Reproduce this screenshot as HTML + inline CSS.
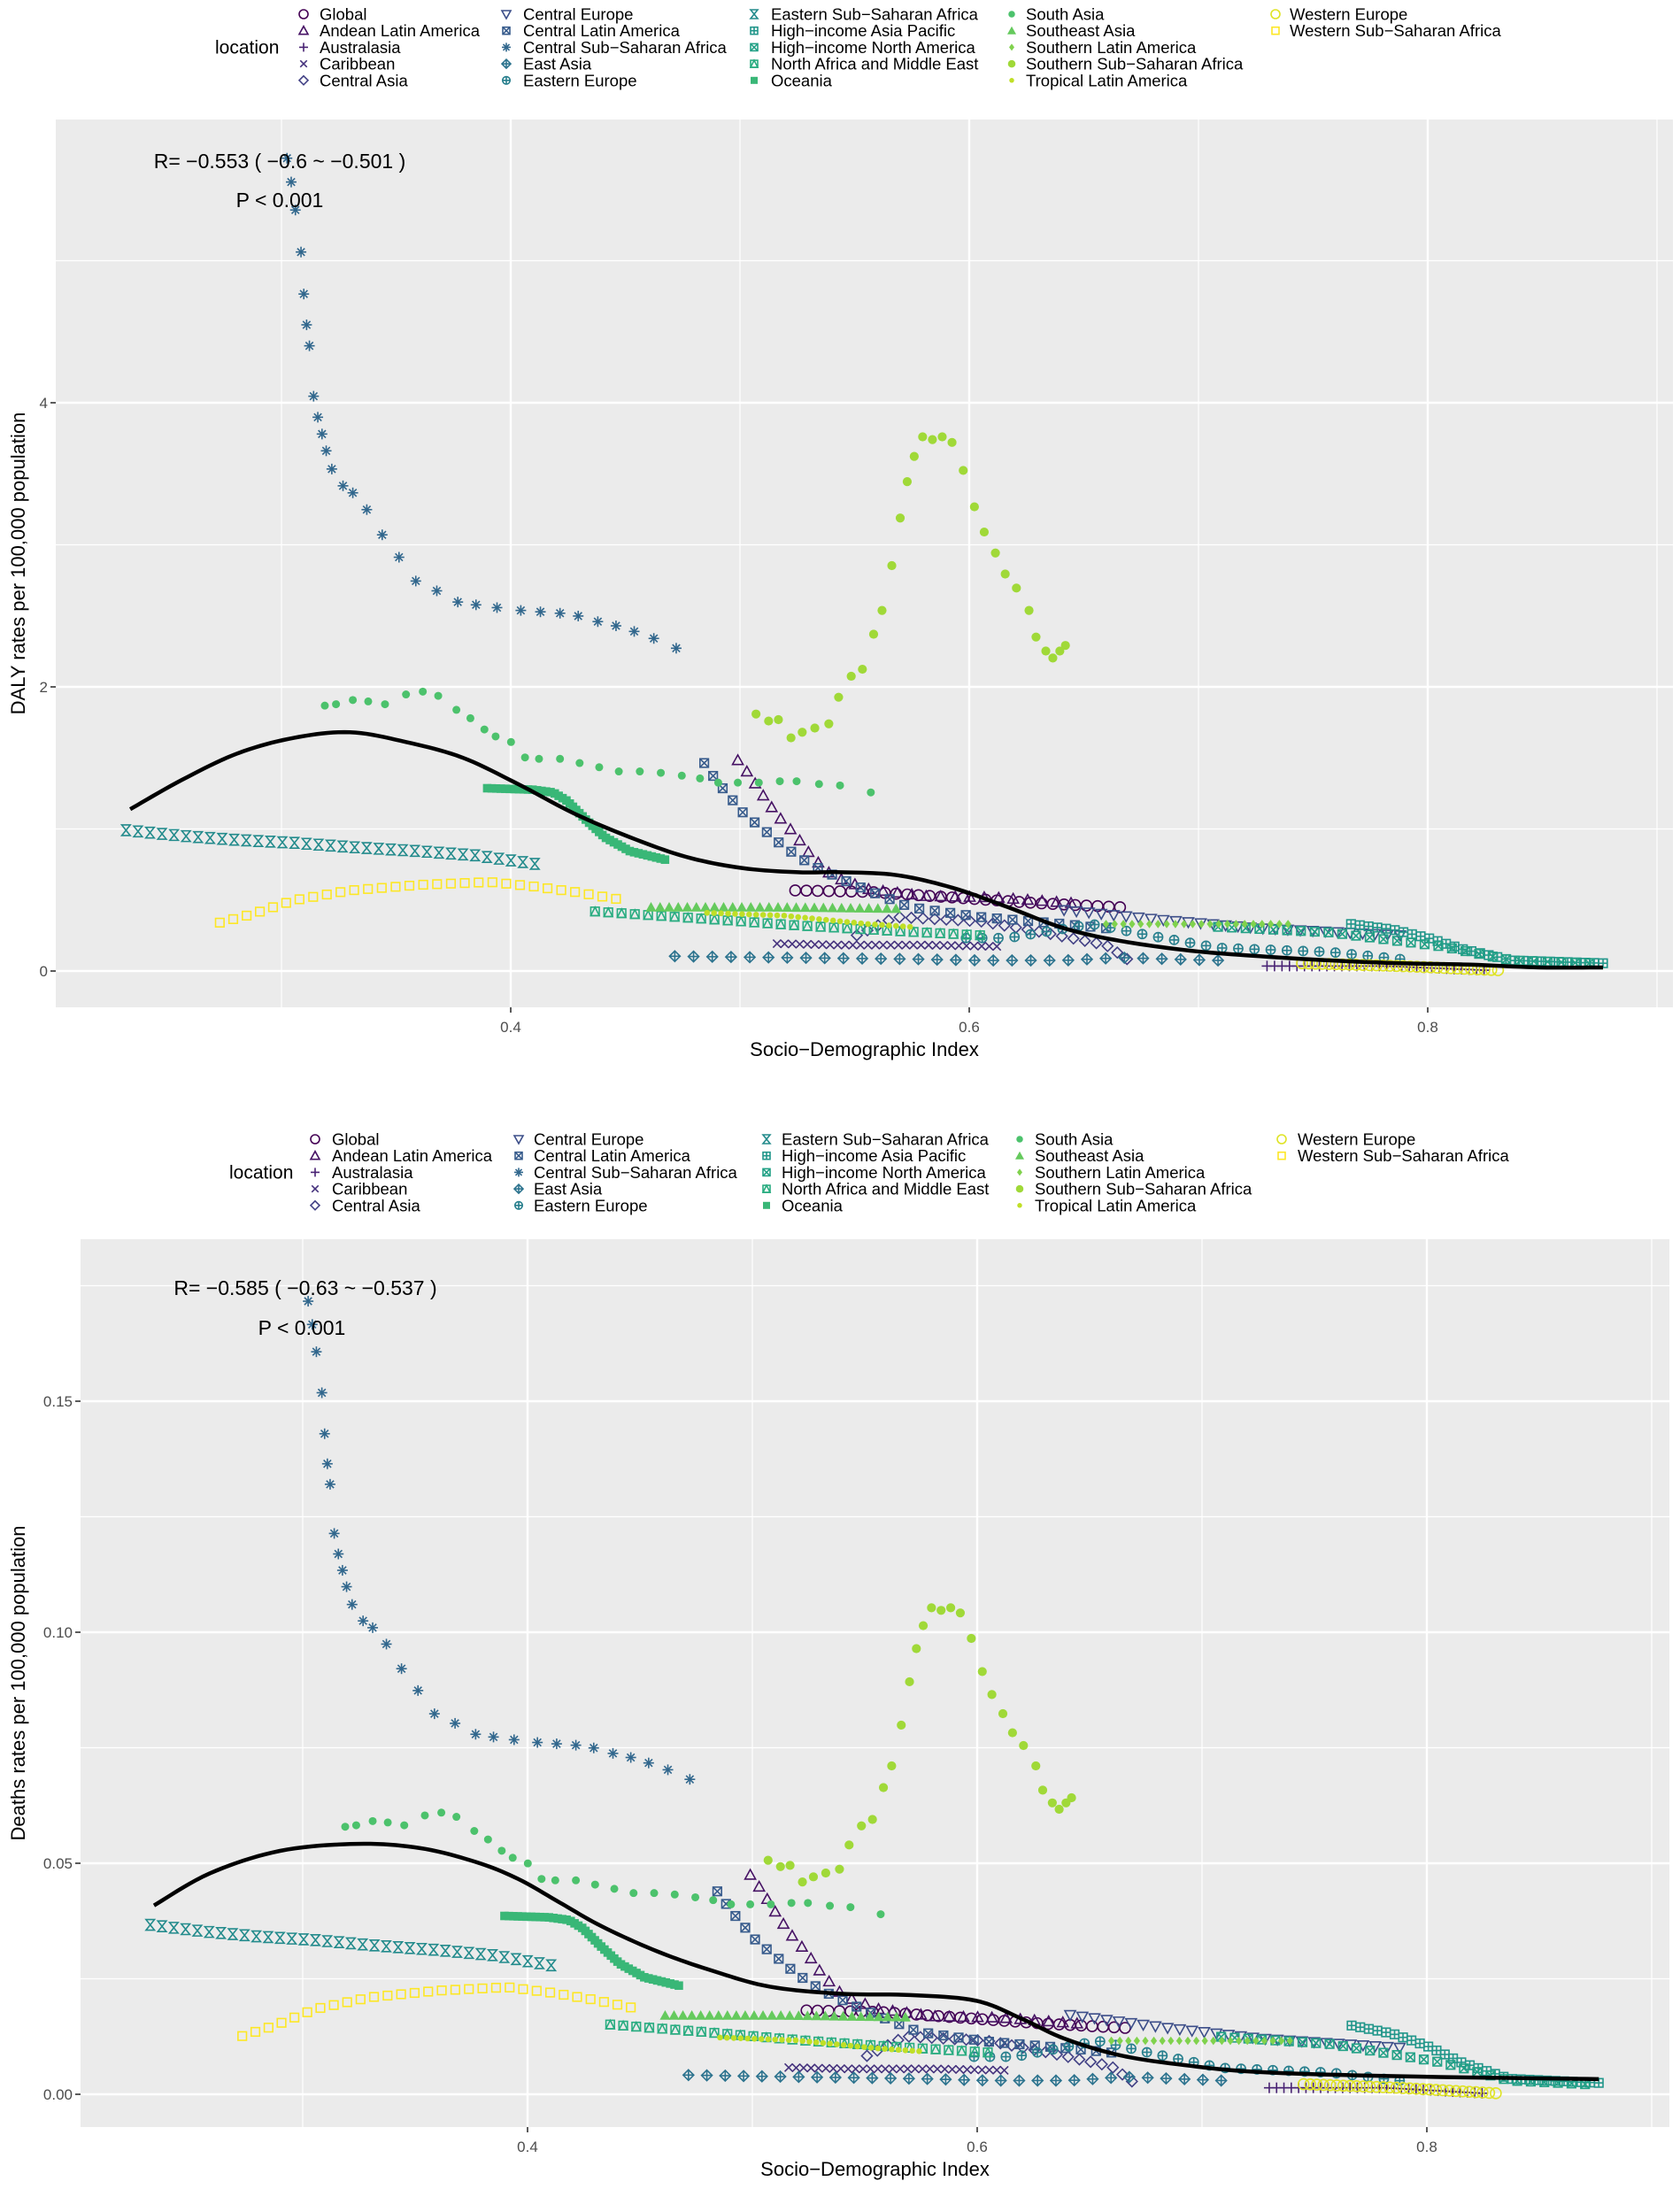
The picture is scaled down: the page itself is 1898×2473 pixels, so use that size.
<!DOCTYPE html>
<html><head><meta charset="utf-8">
<style>html,body{margin:0;padding:0;background:#fff}svg{display:block}</style>
</head><body>
<svg id="s" xmlns="http://www.w3.org/2000/svg" width="1898" height="2473" viewBox="0 0 1898 2473" font-family="Liberation Sans, Arial, sans-serif">
<rect width="1898" height="2473" fill="#fff"/>
<text x="316" y="190" font-size="24" text-anchor="middle">R= −0.553 ( −0.6 ~ −0.501 )</text>
</svg>
<script>
const S=document.getElementById('s');const NS='http://www.w3.org/2000/svg';
function el(t,a,p){const e=document.createElementNS(NS,t);for(const k in a)e.setAttribute(k,a[k]);(p||S).appendChild(e);return e;}
S.removeChild(S.querySelector('text'));
const vs=['#440154','#482475','#414487','#355f8d','#2a788e','#21918c','#22a884','#44bf70','#7ad151','#bddf26','#fde725'];
function hx(c){return [1,3,5].map(i=>parseInt(c.substr(i,2),16));}
function vir(t){const p=t*10,i=Math.min(9,Math.floor(p)),f=p-i;const a=hx(vs[i]),b=hx(vs[i+1]);return 'rgb('+a.map((v,k)=>Math.round(v+(b[k]-v)*f)).join(',')+')';}
const names=['Global','Andean Latin America','Australasia','Caribbean','Central Asia','Central Europe','Central Latin America','Central Sub−Saharan Africa','East Asia','Eastern Europe','Eastern Sub−Saharan Africa','High−income Asia Pacific','High−income North America','North Africa and Middle East','Oceania','South Asia','Southeast Asia','Southern Latin America','Southern Sub−Saharan Africa','Tropical Latin America','Western Europe','Western Sub−Saharan Africa'];
const col=names.map((n,i)=>vir(i/21));
function mk(g,sh,x,y,s,c){
 const st={fill:'none',stroke:c,'stroke-width':1.6};
 const L=(x1,y1,x2,y2)=>el('line',Object.assign({x1,y1,x2,y2},st),g);
 switch(sh){
 case 0:case 20:el('circle',Object.assign({cx:x,cy:y,r:s},st),g);break;
 case 1:el('polygon',Object.assign({points:`${x},${y-s} ${x+s},${y+s*.8} ${x-s},${y+s*.8}`},st),g);break;
 case 2:L(x-s,y,x+s,y);L(x,y-s,x,y+s);break;
 case 3:L(x-s*.75,y-s*.75,x+s*.75,y+s*.75);L(x-s*.75,y+s*.75,x+s*.75,y-s*.75);break;
 case 4:el('polygon',Object.assign({points:`${x},${y-s} ${x+s},${y} ${x},${y+s} ${x-s},${y}`},st),g);break;
 case 5:el('polygon',Object.assign({points:`${x},${y+s} ${x+s},${y-s*.8} ${x-s},${y-s*.8}`},st),g);break;
 case 6:case 12:el('rect',Object.assign({x:x-s*.8,y:y-s*.8,width:s*1.6,height:s*1.6},st),g);L(x-s*.8,y-s*.8,x+s*.8,y+s*.8);L(x-s*.8,y+s*.8,x+s*.8,y-s*.8);break;
 case 7:L(x-s,y,x+s,y);L(x,y-s,x,y+s);L(x-s*.7,y-s*.7,x+s*.7,y+s*.7);L(x-s*.7,y+s*.7,x+s*.7,y-s*.7);break;
 case 8:el('polygon',Object.assign({points:`${x},${y-s} ${x+s},${y} ${x},${y+s} ${x-s},${y}`},st),g);L(x-s,y,x+s,y);L(x,y-s,x,y+s);break;
 case 9:el('circle',Object.assign({cx:x,cy:y,r:s*.85},st),g);L(x-s*.85,y,x+s*.85,y);L(x,y-s*.85,x,y+s*.85);break;
 case 10:el('polygon',Object.assign({points:`${x-s*.8},${y-s} ${x+s*.8},${y-s} ${x-s*.8},${y+s} ${x+s*.8},${y+s}`},st),g);break;
 case 11:el('rect',Object.assign({x:x-s*.8,y:y-s*.8,width:s*1.6,height:s*1.6},st),g);L(x-s*.8,y,x+s*.8,y);L(x,y-s*.8,x,y+s*.8);break;
 case 13:el('rect',Object.assign({x:x-s*.8,y:y-s*.8,width:s*1.6,height:s*1.6},st),g);el('polygon',Object.assign({points:`${x},${y-s*.8} ${x+s*.8},${y+s*.8} ${x-s*.8},${y+s*.8}`},st),g);break;
 case 14:el('rect',{x:x-s*.8,y:y-s*.8,width:s*1.6,height:s*1.6,fill:c},g);break;
 case 15:el('circle',{cx:x,cy:y,r:s*.75,fill:c},g);break;
 case 16:el('polygon',{points:`${x},${y-s} ${x+s},${y+s*.8} ${x-s},${y+s*.8}`,fill:c},g);break;
 case 17:el('polygon',{points:`${x},${y-s*.8} ${x+s*.6},${y} ${x},${y+s*.8} ${x-s*.6},${y}`,fill:c},g);break;
 case 18:el('circle',{cx:x,cy:y,r:s*.85,fill:c},g);break;
 case 19:el('circle',{cx:x,cy:y,r:s*.55,fill:c},g);break;
 case 21:el('rect',Object.assign({x:x-s*.8,y:y-s*.8,width:s*1.6,height:s*1.6},st),g);break;
 }}
const D={
0:[[[568,636],[620,637],[680,641],[740,645],[800,648]],30],
1:[[[527,543],[535,553],[545,568],[555,582],[568,596],[580,612],[595,626],[620,635],[660,640],[710,641],[765,645]],28],
2:[[[905,690],[990,690],[1060,693]],30],
3:[[[555,674],[600,675],[660,675],[712,676]],30],
4:[[[612,668],[640,655],[700,658],[740,665],[790,675],[805,685]],25],
5:[[[760,650],[830,657],[900,663],[1000,668]],28],
6:[[[503,545],[512,558],[522,570],[532,582],[545,592],[560,605],[580,618],[610,632],[650,648],[700,655],[760,660],[790,663]],30],
7:[[[205,113],[208,130],[211,150],[215,180],[217,210],[219,232],[221,247],[224,283],[227,298],[230,310],[233,322],[237,335],[245,347],[252,352],[262,364],[273,382],[285,398],[297,415],[312,422],[327,430],[340,432],[355,434],[372,436],[386,437],[400,438],[413,440],[427,444],[440,447],[453,451],[467,456],[483,463]],0],
8:[[[482,683],[560,684],[650,685],[700,686],[760,686],[800,684],[870,686]],30],
9:[[[690,670],[720,670],[780,660],[820,668],[870,677],[950,680],[1000,685]],28],
10:[[[90,593],[100,594],[130,597],[170,600],[210,602],[250,605],[300,608],[340,611],[382,617]],35],
11:[[[965,660],[995,664],[1020,670],[1045,678],[1080,686],[1145,688]],30],
12:[[[870,662],[950,666],[1030,676],[1080,686],[1135,688]],28],
13:[[[425,651],[500,656],[570,661],[640,665],[700,668]],30],
14:[[[348,563],[380,564],[395,566],[405,572],[418,585],[432,598],[450,608],[475,614]],45],
15:[[[232,504],[240,503],[252,500],[263,501],[275,503],[290,496],[302,494],[313,497],[326,507],[336,513],[346,521],[354,526],[365,530],[375,541],[385,542],[400,542],[414,545],[428,548],[442,551],[457,551],[472,552],[487,554],[500,556],[513,559],[527,559],[542,559],[557,558],[569,558],[585,560],[600,561],[622,566]],0],
16:[[[465,648],[550,648],[640,649]],28],
17:[[[790,660],[850,660],[920,660]],22],
18:[[[540,510],[549,515],[556,514],[565,527],[573,523],[582,520],[592,517],[599,498],[608,483],[616,478],[624,453],[630,436],[637,404],[643,370],[648,344],[653,326],[659,312],[666,314],[673,312],[680,316],[688,336],[696,362],[703,380],[711,395],[718,410],[726,420],[735,436],[740,455],[747,465],[752,470],[757,465],[761,461]],0],
19:[[[505,652],[560,654],[620,660],[650,662]],30],
20:[[[930,688],[1000,690],[1070,693]],30],
21:[[[157,659],[180,653],[210,643],[250,636],[300,632],[350,630],[380,633],[410,637],[440,642]],30]};
const ratio=[.032,.032,.04,.03,.033,.04,.030,.030,.04,.035,.037,.045,.04,.036,.030,.031,.038,.035,.028,.03,.04,.037];
function resample(a,n){if(!n)return a;const L=[0];for(let i=1;i<a.length;i++)L.push(L[i-1]+Math.hypot(a[i][0]-a[i-1][0],a[i][1]-a[i-1][1]));const T=L[L.length-1],o=[];
 for(let k=0;k<n;k++){const d=T*k/(n-1);let i=1;while(i<a.length-1&&L[i]<d)i++;const f=(d-L[i-1])/((L[i]-L[i-1])||1);o.push([a[i-1][0]+(a[i][0]-a[i-1][0])*f,a[i-1][1]+(a[i][1]-a[i-1][1])*f]);}return o;}
function cr(a,m){const o=[];for(let i=0;i<a.length-1;i++){const p0=a[Math.max(0,i-1)],p1=a[i],p2=a[i+1],p3=a[Math.min(a.length-1,i+2)];
 for(let k=0;k<m;k++){const t=k/m,t2=t*t,t3=t2*t;o.push([0,1].map(j=>0.5*((2*p1[j])+(-p0[j]+p2[j])*t+(2*p0[j]-5*p1[j]+4*p2[j]-p3[j])*t2+(-p0[j]+3*p1[j]-3*p2[j]+p3[j])*t3)));}}
 o.push(a[a.length-1]);return o;}
const K=1.5817;
const toData=p=>[0.4+(p[0]*K-577)/2590,(1097-p[1]*K)/160.5];
const P1={x0:63,x1:1890,y0:135,y1:1138,px:v=>577+(v-0.4)*2590,py:v=>1097-v*160.5};
const P2={x0:91,x1:1886,y0:1400,y1:2403,px:v=>596+(v-0.4)*2540,py:v=>2366-v*5220};
function panel(P,yt,ylabels,ymin,ytitle,tlx){
 el('rect',{x:P.x0,y:P.y0,width:P.x1-P.x0,height:P.y1-P.y0,fill:'#EBEBEB'});
 [0.3,0.5,0.7,0.9].forEach(v=>el('line',{x1:P.px(v),x2:P.px(v),y1:P.y0,y2:P.y1,stroke:'#fff','stroke-width':1.2}));
 ymin.forEach(v=>el('line',{x1:P.x0,x2:P.x1,y1:P.py(v),y2:P.py(v),stroke:'#fff','stroke-width':1.2}));
 [0.4,0.6,0.8].forEach(v=>{const x=P.px(v);el('line',{x1:x,x2:x,y1:P.y0,y2:P.y1,stroke:'#fff','stroke-width':2.4});
  el('line',{x1:x,x2:x,y1:P.y1,y2:P.y1+6,stroke:'#333','stroke-width':1.6});
  const t=el('text',{x:x,y:P.y1+28,'font-size':17,fill:'#4D4D4D','text-anchor':'middle'});t.textContent=v.toFixed(1);});
 yt.forEach((v,i)=>{const y=P.py(v);el('line',{x1:P.x0,x2:P.x1,y1:y,y2:y,stroke:'#fff','stroke-width':2.4});
  el('line',{x1:P.x0-6,x2:P.x0,y1:y,y2:y,stroke:'#333','stroke-width':1.6});
  const t=el('text',{x:P.x0-9,y:y+6,'font-size':17,fill:'#4D4D4D','text-anchor':'end'});t.textContent=ylabels[i];});
 const xt=el('text',{x:(P.x0+P.x1)/2,y:P.y1+55,'font-size':22,'text-anchor':'middle'});xt.textContent='Socio−Demographic Index';
 const cy=(P.y0+P.y1)/2;const yt2=el('text',{x:tlx,y:cy,'font-size':22,'text-anchor':'middle',transform:`rotate(-90 ${tlx} ${cy})`});yt2.textContent=ytitle;}
panel(P1,[0,2,4],['0','2','4'],[1,3,5],'DALY rates per 100,000 population',28);
panel(P2,[0,.05,.10,.15],['0.00','0.05','0.10','0.15'],[.025,.075,.125,.175],'Deaths rates per 100,000 population',28);
for(let i=0;i<22;i++){const [a,n]=D[i];const pts=resample(a,n).map(toData);const g1=el('g',{}),g2=el('g',{});
 const sz=6;
 pts.forEach(p=>{mk(g1,i,P1.px(p[0]),P1.py(p[1]),sz,col[i]);mk(g2,i,P2.px(p[0]),P2.py(p[1]*ratio[i]),sz,col[i]);});}
const l1=[[93,578],[130,557],[170,538],[210,527],[250,523],[290,530],[330,541],[370,560],[410,581],[450,598],[490,612],[530,620],[570,623],[600,623],[640,625],[680,634],[720,648],[760,663],[800,672],[850,679],[900,683],[950,686],[1000,688],[1050,689],[1100,691],[1145,691]];
el('polyline',{points:cr(l1,10).map(p=>{const d=toData(p);return P1.px(d[0])+','+P1.py(d[1]);}).join(' '),fill:'none',stroke:'#000','stroke-width':4.5,'stroke-linejoin':'round'});
const l2=[[110,1361],[150,1338],[200,1322],[255,1317],[300,1320],[340,1330],[370,1342],[400,1359],[430,1376],[470,1394],[510,1408],[550,1419],[600,1424],[650,1425],[697,1429],[730,1442],[760,1456],[800,1468],[846,1475],[900,1480],[1000,1483],[1142,1485]];
el('polyline',{points:cr(l2,10).map(p=>(p[0]*K)+','+(p[1]*K)).join(' '),fill:'none',stroke:'#000','stroke-width':4.5,'stroke-linejoin':'round'});
function tx(x,y,s,t){const e=el('text',{x,y,'font-size':s,'text-anchor':'middle'});e.textContent=t;}
tx(316,190,23,'R= −0.553 ( −0.6 ~ −0.501 )');tx(316,234,23,'P < 0.001');
tx(345,1463,23,'R= −0.585 ( −0.63 ~ −0.537 )');tx(341,1508,23,'P < 0.001');
function legend(y0,sx,txx,lx){const t=el('text',{x:lx,y:y0+37.4+7,'font-size':21});t.textContent='location';
 for(let i=0;i<22;i++){const c=Math.floor(i/5),r=i%5,y=y0+r*18.7;const g=el('g',{});mk(g,i,sx[c],y,5,col[i]);
  const e=el('text',{x:txx[c],y:y+6.5,'font-size':18.5});e.textContent=names[i];}}
legend(16,[343,572,852,1143,1441],[361,591,871,1159,1457],243);
legend(1287,[356,586,866,1152,1448],[375,603,883,1169,1466],259);
</script>
</body></html>
